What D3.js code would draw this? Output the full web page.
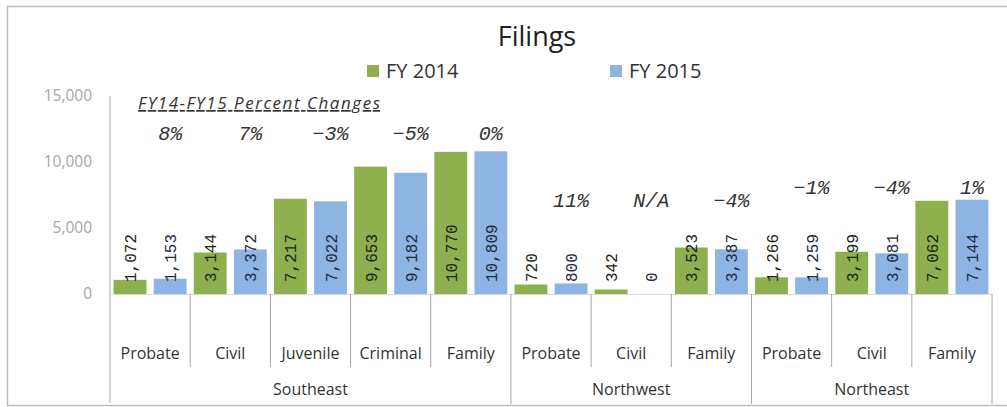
<!DOCTYPE html>
<html><head><meta charset="utf-8">
<script src="https://cdn.jsdelivr.net/npm/d3@7"></script>
<style>body{margin:0;background:#fff}svg{display:block}</style>
</head><body><svg id="c" width="1007" height="407"></svg>
<script>
const categories = ["Probate","Civil","Juvenile","Criminal","Family","Probate","Civil","Family","Probate","Civil","Family"];
const regions = ["Southeast","Southeast","Southeast","Southeast","Southeast","Northwest","Northwest","Northwest","Northeast","Northeast","Northeast"];
const fy2014 = [1072,3144,7217,9653,10770,720,342,3523,1266,3199,7062];
const fy2015 = [1153,3372,7022,9182,10809,800,0,3387,1259,3081,7144];
const pctChange = ["8%","7%","-3%","-5%","0%","11%","N/A","-4%","-1%","-4%","1%"];
const pctLevel = [12200,12200,12200,12200,12200,7100,7100,7100,8100,8100,8100];
const yTicks = [0,5000,10000,15000];
const seriesNames = ["FY 2014","FY 2015"];
const colors = ["#8FB04F","#8DB4E2"];

const svg = d3.select("#c");
const fontMain = "'Century Gothic','URW Gothic','Open Sans','DejaVu Sans',sans-serif";
const fontMono = "'Liberation Mono','Courier New',monospace";

svg.append("rect").attr("x",7.5).attr("y",6.5).attr("width",1010).attr("height",399)
  .attr("fill","none").attr("stroke","#bdbdbd").attr("stroke-width",1.5);

const x0 = 110, x1 = 992, yBase = 294, yTop = 96;
const y = d3.scaleLinear().domain([0,15000]).range([yBase,yTop]);
const idx = d3.range(categories.length);
const xBand = d3.scaleBand().domain(idx).range([x0,x1]).padding(0);
const xSub = d3.scaleBand().domain([0,1]).range([0,xBand.bandwidth()]).paddingInner(0.18).paddingOuter(0.09);

// title
svg.append("text").attr("x",537).attr("y",46).attr("text-anchor","middle")
  .attr("font-family",fontMain).attr("font-size",27).attr("fill","#222").text("Filings");

// legend
const legX = [367,610];
seriesNames.forEach((n,i)=>{
  svg.append("rect").attr("x",legX[i]).attr("y",65).attr("width",12).attr("height",12).attr("fill",colors[i]);
  svg.append("text").attr("x",legX[i]+19).attr("y",78).attr("font-family",fontMain)
    .attr("font-size",20).attr("fill","#333").text(n);
});

// y axis
const yAxis = d3.axisLeft(y).tickValues(yTicks).tickSize(0).tickPadding(18).tickFormat(d3.format(","));
const ya = svg.append("g").attr("transform",`translate(${x0},0)`).call(yAxis);
ya.select(".domain").remove();
ya.selectAll("text").attr("font-family",fontMain).attr("font-size",15.5).attr("fill","#a6a6a6");
svg.append("line").attr("x1",x0).attr("x2",x0).attr("y1",yTop).attr("y2",403).attr("stroke","#a6a6a6");

// bars
const series = [fy2014, fy2015];
series.forEach((vals,s)=>{
  svg.append("g").selectAll("rect").data(idx).join("rect")
    .attr("x",i=>xBand(i)+xSub(s)).attr("width",xSub.bandwidth())
    .attr("y",i=>y(vals[i])).attr("height",i=>yBase-y(vals[i]))
    .attr("fill",colors[s]);
  svg.append("g").selectAll("text").data(idx).join("text")
    .attr("transform",i=>`translate(${xBand(i)+xSub(s)+xSub.bandwidth()/2+6},${yBase-12}) rotate(-90)`)
    .attr("font-family",fontMono).attr("font-size",16).attr("fill", s===0?"#1c2410":"#1b2a40")
    .text(i=>d3.format(",")(vals[i]));
});

// category axis
svg.append("line").attr("x1",x0).attr("x2",x1).attr("y1",yBase+0.5).attr("y2",yBase+0.5).attr("stroke","#d9d9d9");
const groupEdges = [];
idx.forEach(i=>{ if(i===0 || regions[i]!==regions[i-1]) groupEdges.push(i); });
idx.forEach(i=>{
  if(i>0 && !groupEdges.includes(i)){
    svg.append("line").attr("x1",xBand(i)).attr("x2",xBand(i)).attr("y1",yBase).attr("y2",367).attr("stroke","#a6a6a6");
  }
});
groupEdges.concat([categories.length]).forEach(i=>{
  const xx = i<categories.length ? xBand(i) : x1;
  if(i>0) svg.append("line").attr("x1",xx).attr("x2",xx).attr("y1",yBase).attr("y2",404).attr("stroke","#a6a6a6");
});
svg.append("g").selectAll("text").data(idx).join("text")
  .attr("x",i=>xBand(i)+xBand.bandwidth()/2).attr("y",359).attr("text-anchor","middle")
  .attr("font-family",fontMain).attr("font-size",16).attr("fill","#333").text(i=>categories[i]);
groupEdges.forEach((g,k)=>{
  const end = k+1<groupEdges.length ? groupEdges[k+1] : categories.length;
  const cx = (xBand(g) + (end<categories.length?xBand(end):x1))/2;
  svg.append("text").attr("x",cx).attr("y",395).attr("text-anchor","middle")
    .attr("font-family",fontMain).attr("font-size",16).attr("fill","#333").text(regions[g]);
});

// percent changes
svg.append("text").attr("x",138).attr("y",109).attr("font-family",fontMain).attr("font-style","italic")
  .attr("font-size",17).attr("fill","#333").attr("text-decoration","underline")
  .attr("textLength",242).attr("lengthAdjust","spacing").text("FY14-FY15 Percent Changes");
svg.append("g").selectAll("text").data(idx).join("text")
  .attr("x",i=>xBand(i)+xSub(1)+xSub.bandwidth()/2).attr("y",i=>y(pctLevel[i])+7).attr("text-anchor","middle")
  .attr("font-family",fontMono).attr("font-style","italic").attr("font-size",20).attr("fill","#333")
  .text(i=>pctChange[i].replace("-","\u2212"));
</script></body></html>
